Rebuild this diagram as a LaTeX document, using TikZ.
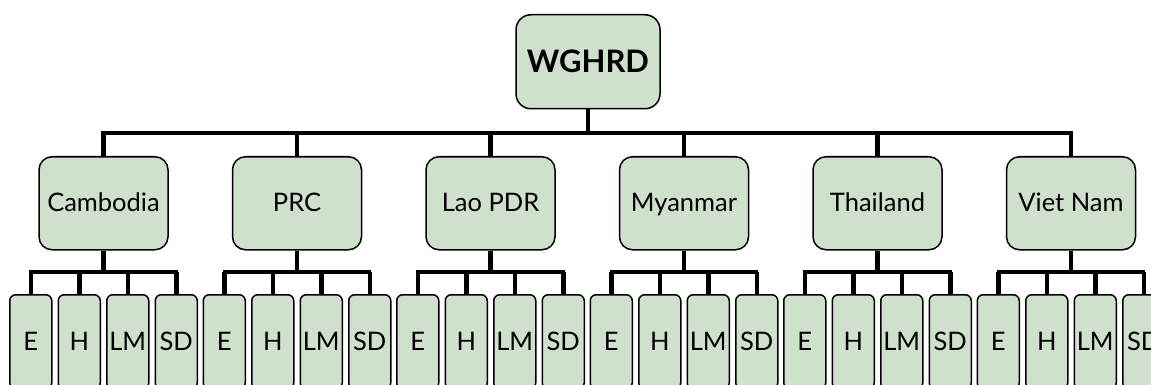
\documentclass[tikz,border=0pt]{standalone}
\usepackage{fontspec}
\setmainfont{Lato}
\definecolor{boxfill}{RGB}{207,224,204}
\tikzset{
  box/.style={draw=black, line width=1.5pt, fill=boxfill, rounded corners=#1, inner sep=0pt, anchor=north},
  box/.default=13pt,
  conn/.style={line width=4.5pt, line cap=butt},
  lbl/.style={font=\fontsize{25.5}{25.5}\selectfont, text height=18pt, text depth=1pt}
}
\begin{document}
\begin{tikzpicture}[x=1pt,y=1pt]
\useasboundingbox (0,0) rectangle (1151,-385);
\clip (0,0) rectangle (1151,-385);
% root
\node[box=15pt, minimum width=144pt, minimum height=94pt, font=\fontsize{31}{31}\selectfont\bfseries, text height=22pt, text depth=0pt] (root) at (588,-14) {WGHRD};
\coordinate (busL) at (103.5,-133);
\coordinate (busR) at (1071,-133);
\draw[conn] (root.south) -- (588,-133);
\draw[conn] ([xshift=-2.25pt]busL) -- ([xshift=2.25pt]busR);
\foreach \i/\name/\txt in {0/cam/Cambodia,1/prc/PRC,2/lao/Lao PDR,3/mya/Myanmar,4/tha/Thailand,5/vie/Viet Nam}{
  \pgfmathsetmacro{\cx}{103.5+193.5*\i}
  \node[box, lbl, minimum width=129pt, minimum height=93pt] (\name) at (\cx,-156) {\txt};
  \draw[conn] (\cx,-133) -- (\name.north);
  \coordinate (\name sb) at (\cx,-272);
  \draw[conn] (\name.south) -- (\name sb);
  \draw[conn] ([xshift=-74.25pt]\name sb) -- ([xshift=74.25pt]\name sb);
  \foreach \j/\lt in {0/E,1/H,2/LM,3/SD}{
    \pgfmathsetmacro{\lx}{\cx-72.75+48.5*\j}
    \node[box=6pt, minimum width=42pt, minimum height=94pt] (\name leaf\j) at (\lx,-294) {};
    \node[lbl, inner sep=0pt, anchor=base] (\name lbl\j) at (\lx,-350) {\lt};
    \draw[conn] (\lx,-272) -- (\name leaf\j.north);
  }
}
\end{tikzpicture}
\end{document}
